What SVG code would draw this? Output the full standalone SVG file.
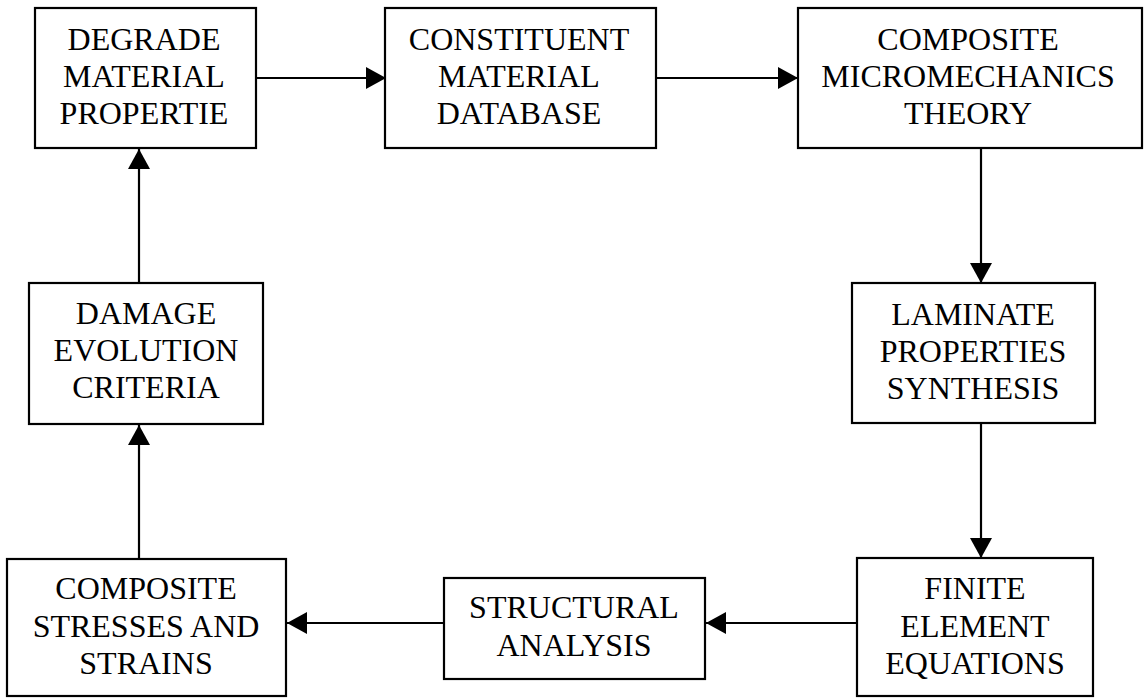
<svg xmlns="http://www.w3.org/2000/svg" width="1146" height="698" viewBox="0 0 1146 698">
<style>
.box{fill:#fff;stroke:#000;stroke-width:2.2}
.lbl{font-family:"Liberation Serif","Times New Roman",serif;font-size:32px;fill:#000;text-anchor:middle}
.conn{stroke:#000;stroke-width:2.2;fill:none}
</style>
<defs>
<marker id="ah" viewBox="0 0 20 22" refX="20" refY="11" markerWidth="20" markerHeight="22" markerUnits="userSpaceOnUse" orient="auto">
<path d="M0,0 L20,11 L0,22 z" fill="#000"/>
</marker>
</defs>
<rect width="1146" height="698" fill="#fff"/>
<g id="connectors">
<line class="conn" x1="256" y1="78" x2="386" y2="78" marker-end="url(#ah)"/>
<line class="conn" x1="656" y1="78" x2="798" y2="78" marker-end="url(#ah)"/>
<line class="conn" x1="981" y1="148" x2="981" y2="283" marker-end="url(#ah)"/>
<line class="conn" x1="981" y1="423" x2="981" y2="558" marker-end="url(#ah)"/>
<line class="conn" x1="857" y1="623" x2="706" y2="623" marker-end="url(#ah)"/>
<line class="conn" x1="444" y1="623" x2="287" y2="623" marker-end="url(#ah)"/>
<line class="conn" x1="139" y1="559" x2="139" y2="425" marker-end="url(#ah)"/>
<line class="conn" x1="139" y1="283" x2="139" y2="149" marker-end="url(#ah)"/>
</g>
<g id="degrade">
<rect class="box" x="35" y="8" width="221" height="140"/>
<text class="lbl" x="144" y="50">DEGRADE</text>
<text class="lbl" x="144" y="87">MATERIAL</text>
<text class="lbl" x="144" y="124">PROPERTIE</text>
</g>
<g id="constituent">
<rect class="box" x="385" y="8" width="271" height="140"/>
<text class="lbl" x="519" y="50">CONSTITUENT</text>
<text class="lbl" x="519" y="87">MATERIAL</text>
<text class="lbl" x="519" y="124">DATABASE</text>
</g>
<g id="micromechanics">
<rect class="box" x="798" y="8" width="344" height="140"/>
<text class="lbl" x="968" y="50">COMPOSITE</text>
<text class="lbl" x="968" y="87">MICROMECHANICS</text>
<text class="lbl" x="968" y="124">THEORY</text>
</g>
<g id="laminate">
<rect class="box" x="852" y="283" width="243" height="140"/>
<text class="lbl" x="973" y="325">LAMINATE</text>
<text class="lbl" x="973" y="362">PROPERTIES</text>
<text class="lbl" x="973" y="399">SYNTHESIS</text>
</g>
<g id="finite">
<rect class="box" x="857" y="558" width="236" height="138"/>
<text class="lbl" x="975" y="599">FINITE</text>
<text class="lbl" x="975" y="637">ELEMENT</text>
<text class="lbl" x="975" y="674">EQUATIONS</text>
</g>
<g id="structural">
<rect class="box" x="444" y="578" width="261" height="101"/>
<text class="lbl" x="574" y="618">STRUCTURAL</text>
<text class="lbl" x="574" y="656">ANALYSIS</text>
</g>
<g id="stresses">
<rect class="box" x="7" y="559" width="279" height="137"/>
<text class="lbl" x="146" y="599">COMPOSITE</text>
<text class="lbl" x="146" y="637">STRESSES AND</text>
<text class="lbl" x="146" y="674">STRAINS</text>
</g>
<g id="damage">
<rect class="box" x="29" y="283" width="234" height="141"/>
<text class="lbl" x="146" y="324">DAMAGE</text>
<text class="lbl" x="146" y="361">EVOLUTION</text>
<text class="lbl" x="146" y="398">CRITERIA</text>
</g>
</svg>
